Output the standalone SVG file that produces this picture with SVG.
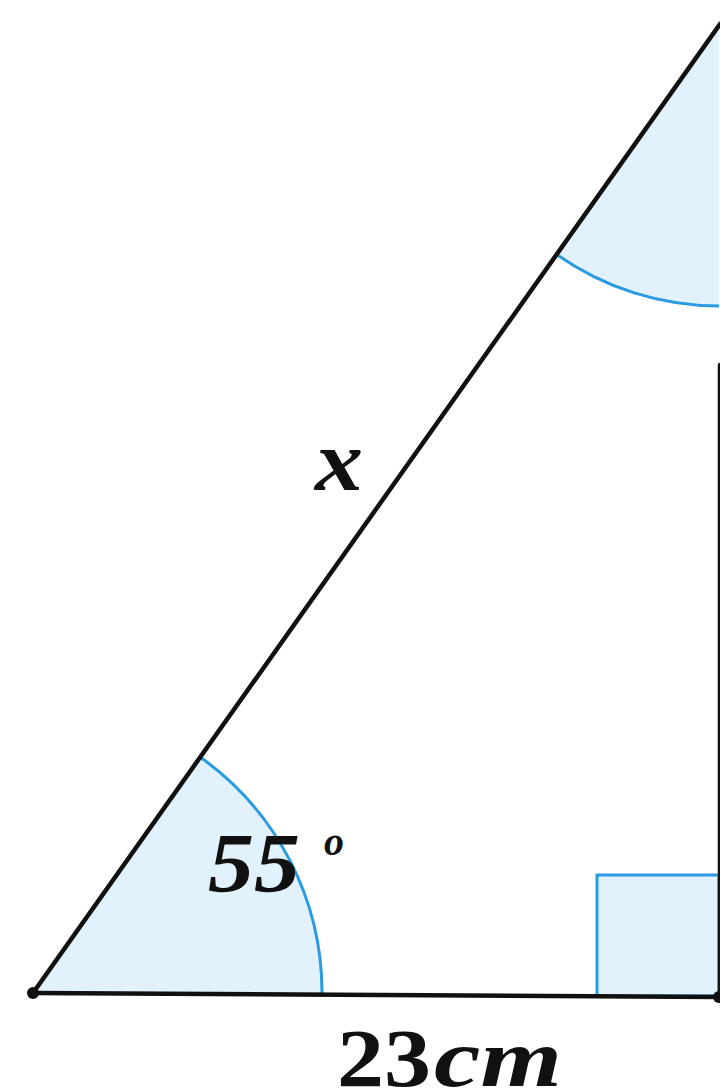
<svg xmlns="http://www.w3.org/2000/svg" width="720" height="1092" viewBox="0 0 720 1092">
<style>
.fill{fill:#e1f2fd;stroke:none}
.arc{fill:none;stroke:#2a9be0;stroke-width:3}
.side{fill:none;stroke:#111;stroke-width:4.5;stroke-linecap:round}
.lbl{font-family:"Liberation Serif","Times New Roman",serif;font-weight:bold;fill:#111}
.it{font-style:italic}
</style>
<rect width="720" height="1092" fill="#fff"/>
<g id="angle-bottom">
<path class="fill" d="M33,993 L200,757 A289,289 0 0,1 322,994.7 Z"/>
<path class="arc" d="M200,757 A289,289 0 0,1 322,994.7"/>
</g>
<g id="angle-top">
<path class="fill" d="M719,24 L556,254 A282,282 0 0,0 719,306 Z"/>
<path class="arc" d="M556,254 A282,282 0 0,0 719,306"/>
</g>
<g id="right-angle">
<rect x="597" y="875" width="122" height="121" fill="#e1f2fd" stroke="#2a9be0" stroke-width="3"/>
</g>
<g id="sides">
<line class="side" x1="33" y1="993" x2="720" y2="24"/>
<line class="side" x1="33" y1="993" x2="719" y2="997"/>
<line class="side" x1="720" y1="365" x2="720" y2="997"/>
</g>
<g id="vertices">
<circle cx="33" cy="993" r="6" fill="#111"/>
<circle cx="719" cy="997" r="6" fill="#111"/>
</g>
<g id="labels">
<text class="lbl it" x="315" y="490" font-size="86" textLength="48" lengthAdjust="spacingAndGlyphs">x</text>
<text class="lbl it" x="208" y="892" font-size="84" textLength="92" lengthAdjust="spacingAndGlyphs">55</text>
<text class="lbl it" x="324" y="855" font-size="40">o</text>
<text class="lbl" x="337" y="1086" font-size="82" textLength="94" lengthAdjust="spacingAndGlyphs">23</text>
<text class="lbl it" x="434" y="1086" font-size="82" textLength="128" lengthAdjust="spacingAndGlyphs">cm</text>
</g>
</svg>
